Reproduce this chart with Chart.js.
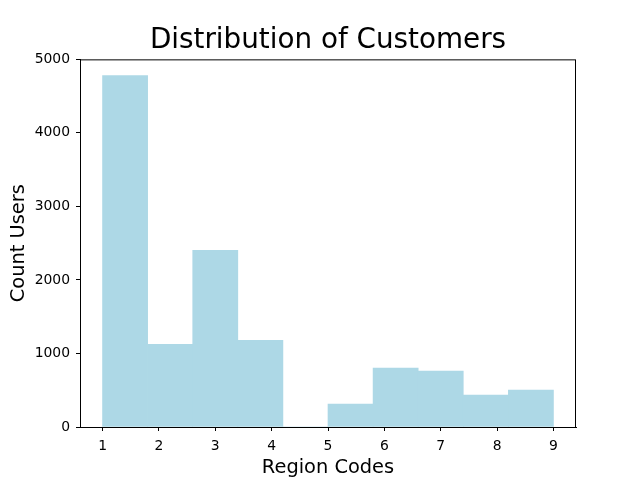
<!DOCTYPE html>
<html>
<head>
<meta charset="utf-8">
<script src="https://cdn.jsdelivr.net/npm/chart.js@4/dist/chart.umd.min.js"></script>
<style>
  html, body { margin: 0; padding: 0; background: #fff; }
  #wrap { width: 640px; height: 480px; }
</style>
</head>
<body>
<div id="wrap"><canvas id="chart" width="640" height="480"></canvas></div>
<script>
// histogram bins (10 bins between 1 and 9)
const binCenters = [1.4, 2.2, 3.0, 3.8, 4.6, 5.4, 6.2, 7.0, 7.8, 8.6];
const userCounts = [4780, 1126, 2402, 1180, 0, 312, 800, 760, 434, 502];
const xTicks = [1, 2, 3, 4, 5, 6, 7, 8, 9];
const yTicks = [0, 1000, 2000, 3000, 4000, 5000];

const font = "'DejaVu Sans', sans-serif";

// draws the closed box around the plot area, like matplotlib spines
const frameBox = {
    id: "frameBox",
    afterLayout(chart) {
        // center the title over the plot area, not the whole canvas
        const t = chart.titleBlock;
        if (t) {
            t.left = chart.chartArea.left;
            t.right = chart.chartArea.right;
            t.width = t.right - t.left;
        }
    },
    afterDraw(chart) {
        const { ctx, chartArea } = chart;
        ctx.save();
        ctx.strokeStyle = "#000";
        ctx.lineWidth = 1;
        ctx.strokeRect(chartArea.left + 0.5, chartArea.top + 0.5,
            chartArea.right - chartArea.left - 1, chartArea.bottom - chartArea.top);
        ctx.restore();
    }
};

new Chart(document.getElementById("chart"), {
    type: "bar",
    data: {
        datasets: [{
            data: binCenters.map((x, i) => ({ x: x, y: userCounts[i] })),
            backgroundColor: "#add8e6",
            borderWidth: 0,
            barPercentage: 1,
            categoryPercentage: 1
        }]
    },
    options: {
        responsive: false,
        animation: false,
        layout: { padding: { left: 0, right: 64, top: 0, bottom: 0 } },
        plugins: {
            legend: { display: false },
            tooltip: { enabled: false },
            title: {
                display: true,
                text: "Distribution of Customers",
                color: "#000",
                font: { family: font, size: 27.8, weight: "normal", lineHeight: 1.2 },
                padding: { top: 24, bottom: 2 }
            }
        },
        scales: {
            x: {
                type: "linear",
                offset: false,
                min: 0.6,
                max: 9.4,
                afterBuildTicks: (scale) => { scale.ticks = xTicks.map(v => ({ value: v })); },
                afterFit: (scale) => { scale.height = 53; },
                ticks: {
                    color: "#000",
                    font: { family: font, size: 13.9 },
                    padding: 7,
                    maxRotation: 0,
                    callback: (v) => String(v)
                },
                grid: { offset: false, drawOnChartArea: false, tickLength: 4, color: "#000" },
                border: { display: true, color: "#000" },
                title: {
                    display: true,
                    text: "Region Codes",
                    color: "#000",
                    font: { family: font, size: 19.4 },
                    padding: { top: 5, bottom: 0 }
                }
            },
            y: {
                type: "linear",
                min: 0,
                max: 5000,
                afterBuildTicks: (scale) => { scale.ticks = yTicks.map(v => ({ value: v })); },
                afterFit: (scale) => { scale.width = 80; },
                ticks: {
                    color: "#000",
                    font: { family: font, size: 13.9 },
                    padding: 6,
                    callback: (v) => String(v)
                },
                grid: { drawOnChartArea: false, tickLength: 4, color: "#000" },
                border: { display: true, color: "#000" },
                title: {
                    display: true,
                    text: "Count Users",
                    color: "#000",
                    font: { family: font, size: 19.4 },
                    padding: { top: 7, bottom: 0 }
                }
            }
        }
    },
    plugins: [frameBox]
});
</script>
</body>
</html>
